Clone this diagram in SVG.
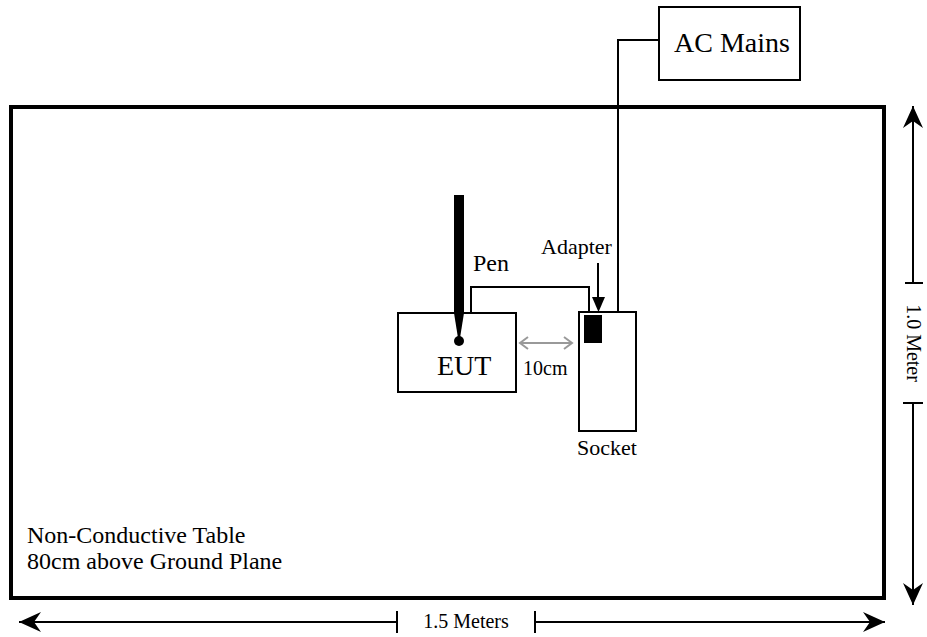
<svg xmlns="http://www.w3.org/2000/svg" width="927" height="637" viewBox="0 0 927 637" font-family="'Liberation Serif', 'Times New Roman', Times, serif">
<defs>
<style>
text{font-family:'Liberation Serif','Times New Roman',Times,serif;fill:#000}
.box{fill:#fff;stroke:#000;stroke-width:2}
.wire{fill:none;stroke:#000;stroke-width:2}
.dim{fill:none;stroke:#000;stroke-width:2}
</style>
<marker id="ah" viewBox="-24 -11 26 22" markerWidth="26" markerHeight="22" refX="0" refY="0" orient="auto-start-reverse" markerUnits="userSpaceOnUse">
<path d="M0,0 L-22,-10 L-15,0 L-22,10 Z" fill="#000"/>
</marker>
<marker id="gh" viewBox="-10 -7 12 14" markerWidth="12" markerHeight="14" refX="0" refY="0" orient="auto-start-reverse" markerUnits="userSpaceOnUse">
<path d="M-8,-6 L0,0 L-8,6" fill="none" stroke="#999" stroke-width="2"/>
</marker>
</defs>
<rect width="927" height="637" fill="#fff"/>

<g id="table">
<rect x="11" y="107" width="873" height="491" fill="none" stroke="#000" stroke-width="4"/>
<text x="27" y="543" font-size="24">Non-Conductive Table</text>
<text x="27" y="569" font-size="24">80cm above Ground Plane</text>
</g>

<g id="connectors">
<polyline class="wire" points="659,40 618,40 618,313"/>
<polyline class="wire" points="471,313 471,287 589,287 589,315"/>
<line x1="598" y1="263" x2="598" y2="298" stroke="#000" stroke-width="2"/>
<path d="M592,297 L605,297 L598.5,312 Z" fill="#000"/>
<line x1="520" y1="343" x2="572" y2="343" stroke="#999" stroke-width="2" marker-start="url(#gh)" marker-end="url(#gh)"/>
</g>

<g id="ac-mains">
<rect class="box" x="659" y="7" width="141" height="73"/>
<text x="674" y="52" font-size="28">AC Mains</text>
</g>

<g id="eut">
<rect class="box" x="398" y="313" width="118" height="79"/>
<text x="437" y="375" font-size="28">EUT</text>
</g>

<g id="pen">
<path d="M454,195 L464,195 L464,313 L460,338 L458,338 L454,313 Z" fill="#000"/>
<circle cx="459" cy="341" r="5" fill="#000"/>
<text x="473" y="271" font-size="24">Pen</text>
</g>

<g id="socket">
<rect class="box" x="579" y="312" width="57" height="119"/>
<text x="577" y="455" font-size="22">Socket</text>
</g>

<g id="adapter">
<rect x="584" y="315" width="18" height="28" fill="#000"/>
<text x="541" y="254" font-size="22">Adapter</text>
</g>

<g id="gap-label">
<text x="523" y="375" font-size="20">10cm</text>
</g>

<g id="dimensions">
<line class="dim" x1="913" y1="283" x2="913" y2="106" marker-end="url(#ah)"/>
<line class="dim" x1="905" y1="283" x2="923" y2="283"/>
<line class="dim" x1="913" y1="403" x2="913" y2="605" marker-end="url(#ah)"/>
<line class="dim" x1="903" y1="403" x2="923" y2="403"/>
<text transform="translate(907,343) rotate(90)" text-anchor="middle" font-size="20">1.0 Meter</text>
<line class="dim" x1="397" y1="622" x2="19" y2="622" marker-end="url(#ah)"/>
<line class="dim" x1="397" y1="611" x2="397" y2="633"/>
<line class="dim" x1="535" y1="622" x2="885" y2="622" marker-end="url(#ah)"/>
<line class="dim" x1="535" y1="611" x2="535" y2="633"/>
<text x="466" y="628" text-anchor="middle" font-size="20">1.5 Meters</text>
</g>
</svg>
